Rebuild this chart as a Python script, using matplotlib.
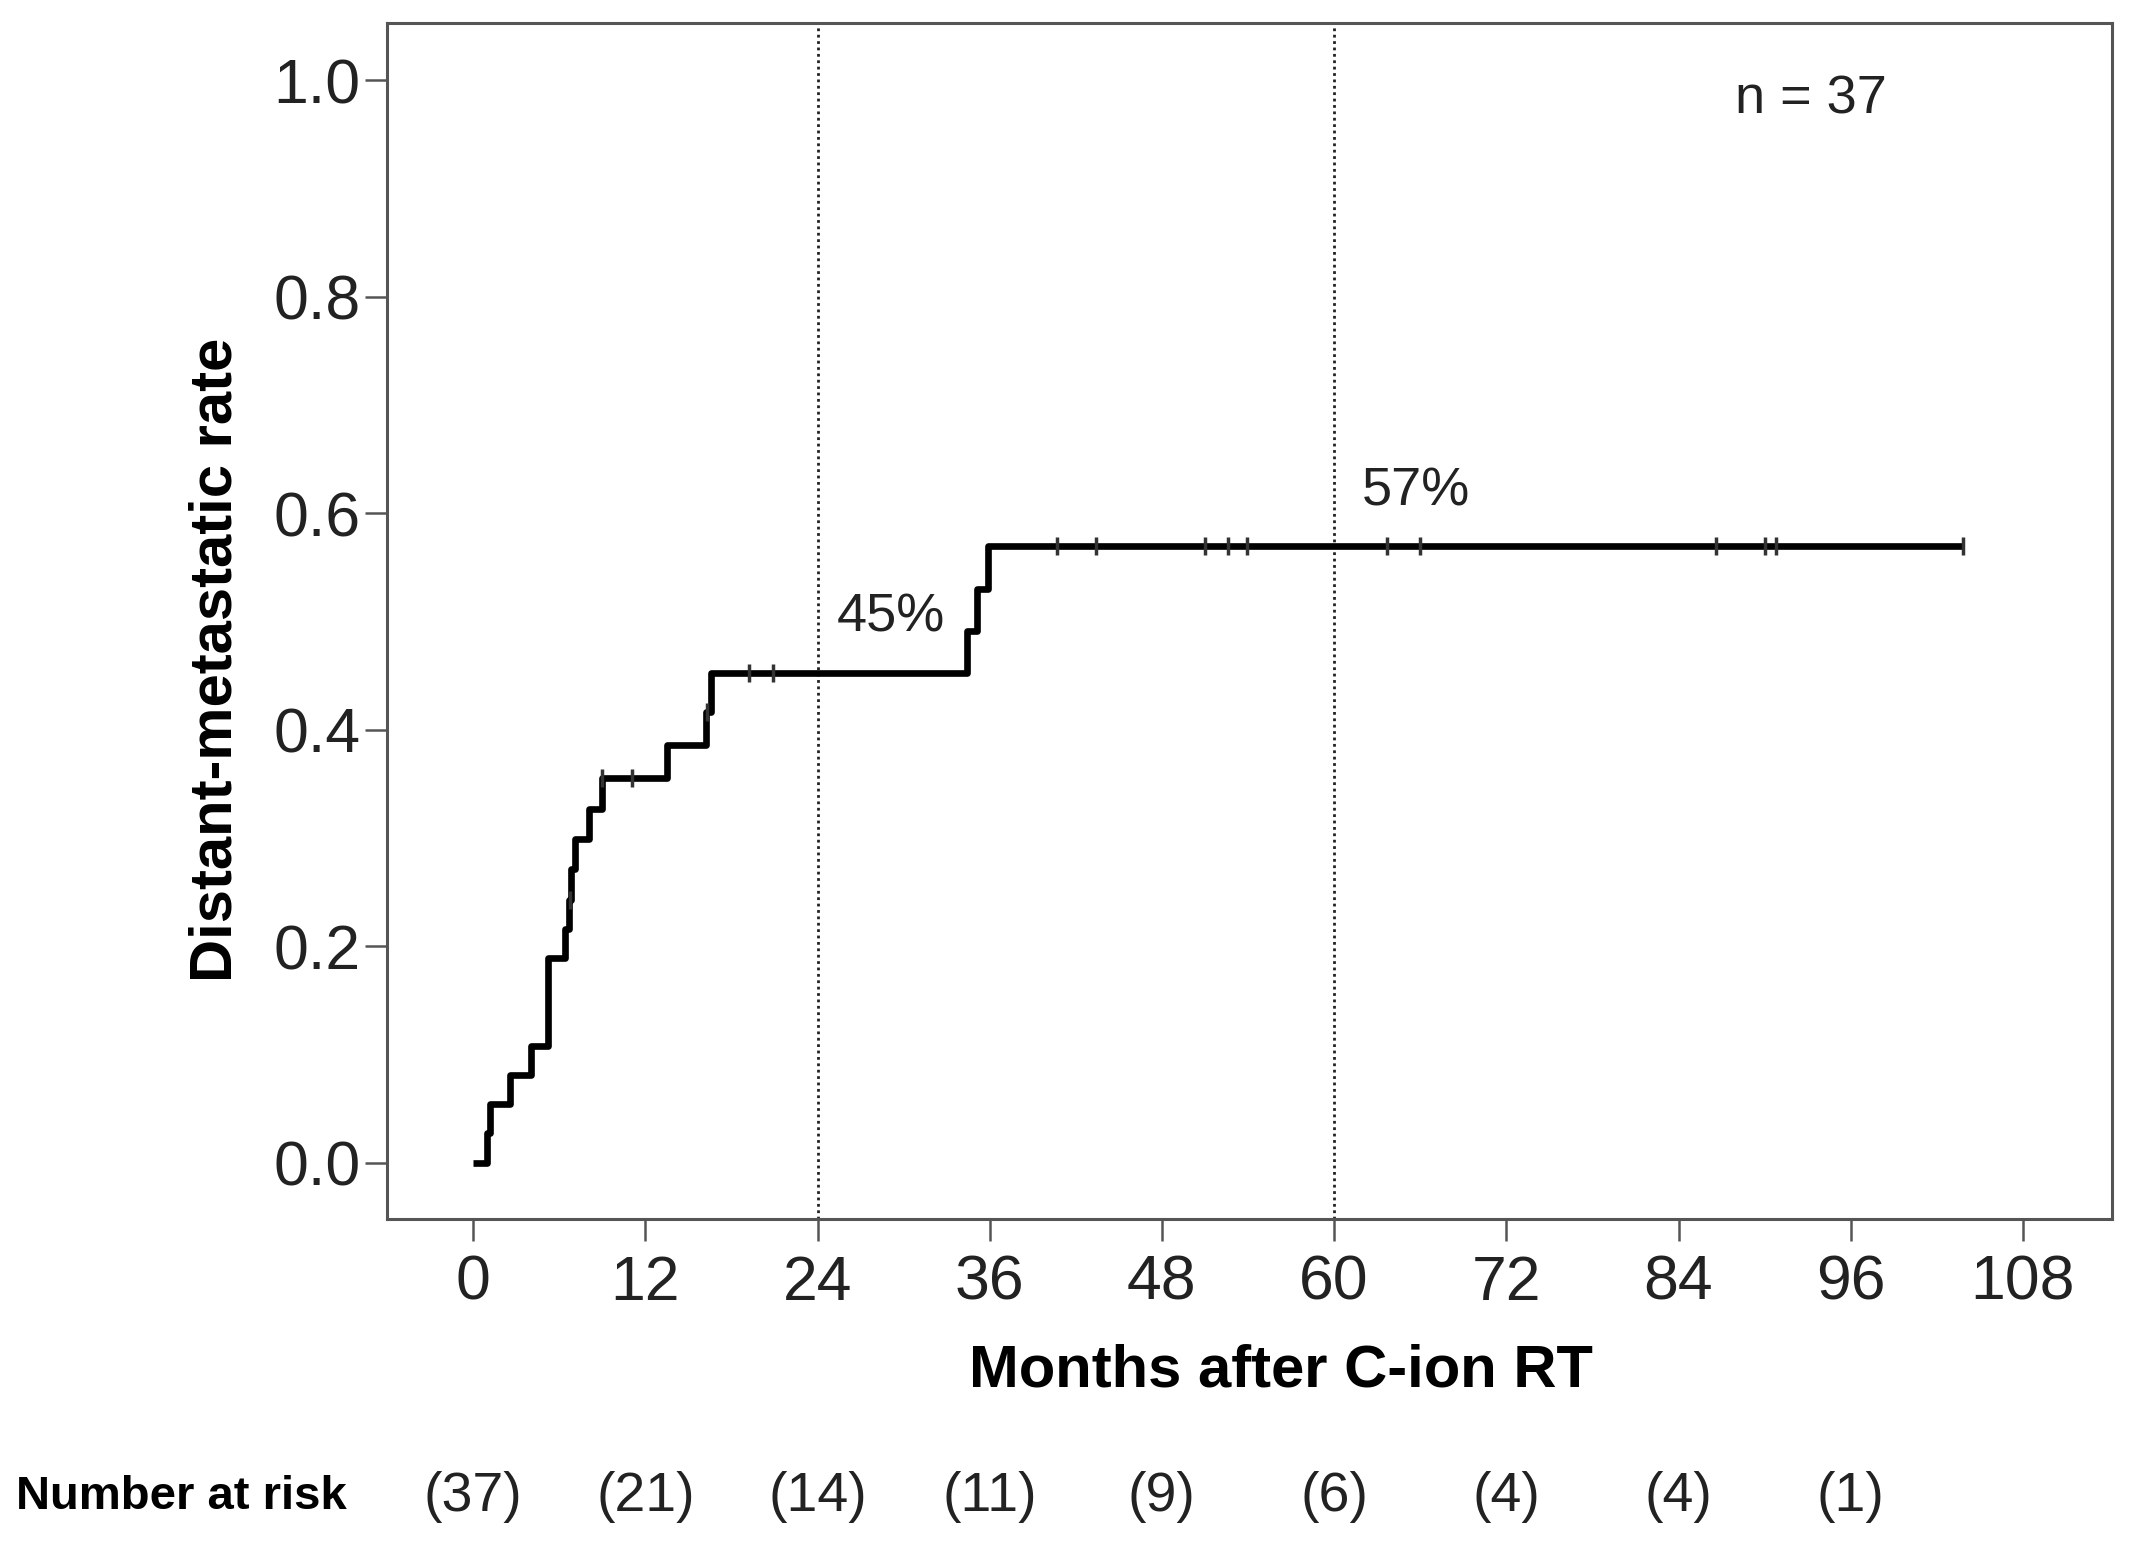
import numpy as np
import matplotlib.pyplot as plt
from matplotlib.transforms import blended_transform_factory

plt.rcParams['font.family'] = ['Liberation Sans', 'DejaVu Sans']

# Step points of the cumulative curve (months, rate)
event_months = [0, 1.0, 1.2, 2.6, 4.0, 5.2, 6.4, 6.7, 6.8, 7.1, 8.1, 9.0,
                13.5, 16.2, 16.6, 34.4, 35.1, 35.9]
cum_rate = [0, 0.027, 0.054, 0.081, 0.108, 0.189, 0.216, 0.243, 0.271, 0.299,
            0.327, 0.355, 0.386, 0.416, 0.452, 0.491, 0.530, 0.570]
last_followup = 103.8

# Censored observations
censor_months = [6.75, 9.0, 11.1, 16.3, 19.2, 20.9, 40.7, 43.4, 51.0, 52.6,
                 53.9, 63.7, 66.0, 86.6, 90.0, 90.8, 103.8]

# Number at risk
risk_months = [0, 12, 24, 36, 48, 60, 72, 84, 96]
at_risk = [37, 21, 14, 11, 9, 6, 4, 4, 1]

x_ticks = [0, 12, 24, 36, 48, 60, 72, 84, 96, 108]
y_ticks = [0.0, 0.2, 0.4, 0.6, 0.8, 1.0]

fig = plt.figure(figsize=(21.3, 15.45), dpi=100)
ax = fig.add_axes([0.1817, 0.2110, 0.8098, 0.7743])

xs = list(event_months) + [last_followup]
ys = list(cum_rate) + [cum_rate[-1]]
ax.step(xs, ys, where='post', color='black', lw=4.8, solid_capstyle='butt', zorder=3)

# censor ticks sit on the curve
idx = np.searchsorted(event_months, censor_months, side='right') - 1
cy = np.array(cum_rate)[idx]
ax.plot(censor_months, cy, ls='none', marker='|', ms=13, mew=2.5, color='#333333', zorder=4)

# reference lines at 2 and 5 years
for m in [24, 60]:
    ax.axvline(m, color='#222222', lw=2.0, ls=(0, (1, 1.3)), zorder=2)

ax.set_xlim(-6, 114.2)
ax.set_ylim(-0.052, 1.053)
ax.set_xticks(x_ticks)
ax.set_yticks(y_ticks)
ax.set_yticklabels([f'{v:.1f}' for v in y_ticks])

for s in ax.spines.values():
    s.set_color('#555555')
    s.set_linewidth(2.2)
ax.tick_params(axis='both', direction='out', length=16, width=1.8, color='#555555',
               labelsize=45, labelcolor='#222222')
ax.tick_params(axis='x', pad=9)
ax.tick_params(axis='y', pad=3)

ax.text(0.518, -0.127, 'Months after C-ion RT', transform=ax.transAxes,
        ha='center', va='center', fontsize=43, fontweight='bold')
ax.text(-0.099, 0.467, 'Distant-metastatic rate', transform=ax.transAxes,
        ha='center', va='center', rotation=90, fontsize=43, fontweight='bold')

ax.text(93.2, 0.982, 'n = 37', ha='center', va='center', fontsize=39, color='#222222')
ax.text(29.1, 0.504, '45%', ha='center', va='center', fontsize=39, color='#222222')
ax.text(65.7, 0.620, '57%', ha='center', va='center', fontsize=39, color='#222222')

# number at risk row
trans = blended_transform_factory(ax.transData, fig.transFigure)
for m, n in zip(risk_months, at_risk):
    ax.text(m, 0.031, f'({n})', transform=trans, ha='center', va='center',
            fontsize=40, color='#222222')
fig.text(0.0075, 0.031, 'Number at risk', ha='left', va='center',
         fontsize=34, fontweight='bold')

fig.savefig('out.png', dpi=100)
